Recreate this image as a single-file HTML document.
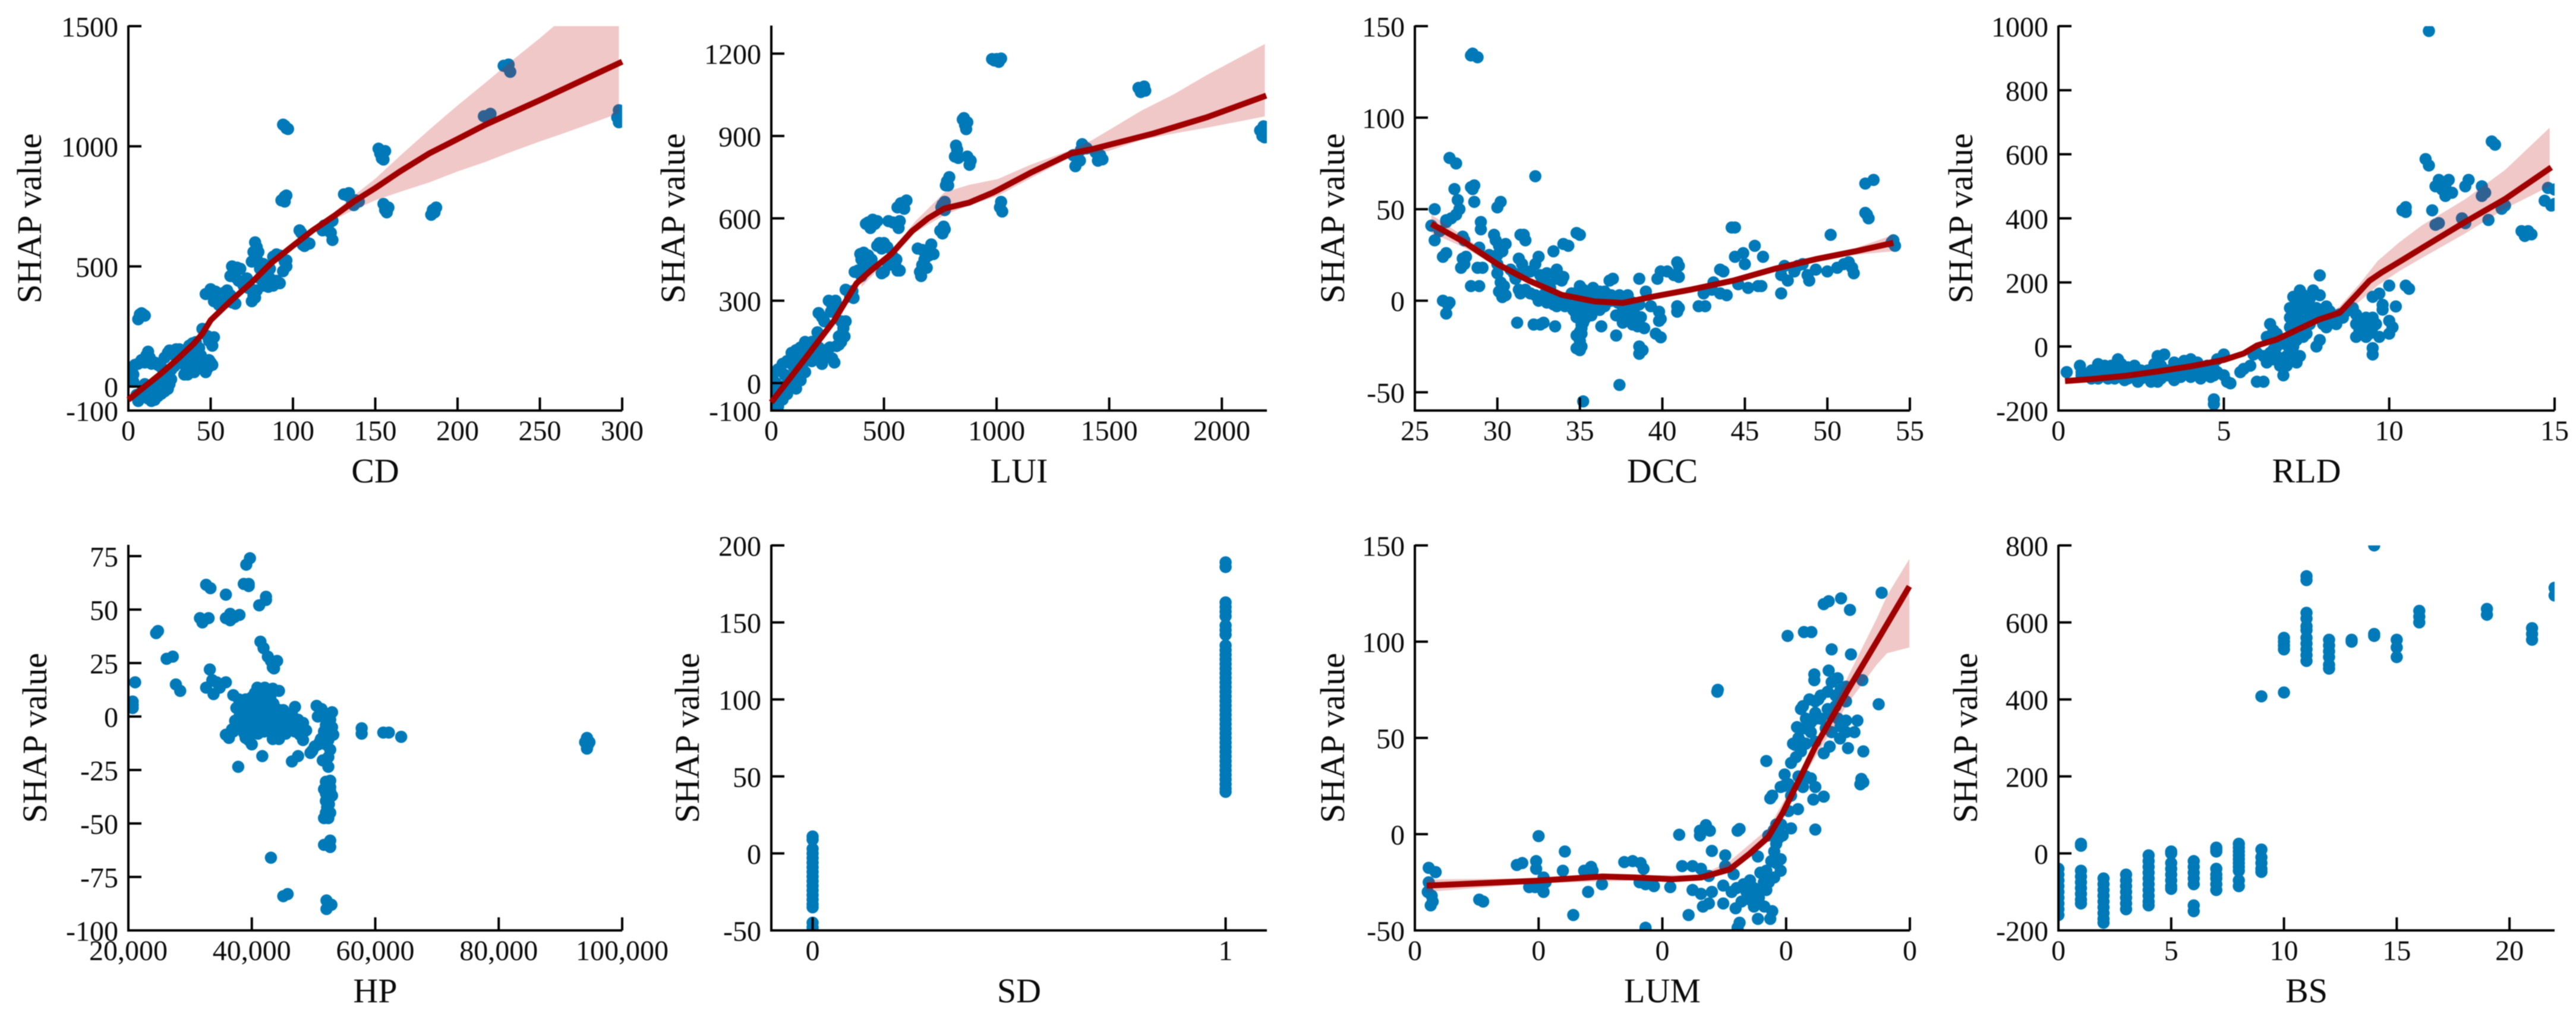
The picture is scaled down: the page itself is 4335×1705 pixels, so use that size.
<!DOCTYPE html>
<html lang="en">
<head>
<meta charset="utf-8">
<title>SHAP dependence plots</title>
<style>
html,body{margin:0;padding:0;background:#fff;}
body{width:4335px;height:1705px;overflow:hidden;}
svg{display:block;filter:blur(0.7px);}
text{font-family:"Liberation Serif",serif;fill:#0a0a0a;}
</style>
</head>
<body>
<svg id="figure" xmlns="http://www.w3.org/2000/svg" width="4335" height="1705" viewBox="0 0 4335 1705"></svg>
<script>
/* ---------- CD ---------- */
const cdXTicks=[0,50,100,150,200,250,300];
const cdYTicks=[-100,0,500,1000,1500];
const cdPoints=[[94,1090],[95,1085],[96,1075],[97,1072],[94,780],[95,790],[96,795],[93,775],[95,770],[152,990],[153,970],[155,975],[156,980],[154,950],[155,945],[155,760],[156,750],[158,745],[157,725],[156,735],[184,715],[185,735],[187,745],[186,725],[216,1125],[219,1130],[220,1135],[218,1120],[228,1335],[231,1340],[232,1310],[230,1330],[297,1120],[298,1150],[298,1100],[299,1130],[131,800],[134,805],[136,765],[138,775],[140,770],[137,755],[133,795],[120,660],[122,680],[124,690],[121,650],[123,640],[124,610],[119,670],[118,650],[105,640],[106,590],[108,600],[110,595],[104,650],[107,585],[77,600],[78,580],[76,560],[79,560],[75,520],[78,530],[82,510],[80,490],[85,500],[88,540],[90,550],[92,545],[95,520],[96,500],[94,480],[96,525],[84,470],[86,450],[90,440],[92,430],[88,420],[85,415],[82,420],[80,450],[83,440],[86,490],[76,380],[75,355],[77,370],[78,400],[74,410],[63,500],[66,495],[68,490],[62,460],[65,455],[67,440],[70,435],[72,450],[73,410],[70,420],[47,385],[50,405],[53,395],[56,370],[58,390],[60,400],[62,380],[59,370],[55,340],[52,355],[57,345],[63,350],[65,345],[61,360],[45,240],[48,210],[50,200],[52,205],[51,170],[49,190],[6,280],[7,300],[8,305],[9,300],[10,295],[44,105],[46,85],[47,60],[48,105],[50,100],[51,90],[49,110],[48,75],[0,60],[2,80],[4,90],[6,95],[8,110],[10,100],[11,130],[12,145],[13,120],[14,95],[16,100],[18,90],[20,80],[22,120],[24,140],[25,150],[27,140],[29,155],[31,155],[33,150],[35,145],[37,170],[39,180],[41,185],[43,160],[42,130],[40,100],[38,70],[36,50],[34,50],[35,80],[33,100],[30,110],[28,85],[26,70],[24,60],[26,30],[25,10],[22,40],[20,20],[18,0],[16,10],[14,-10],[12,-20],[10,-30],[8,-40],[6,-60],[7,-30],[5,-35],[3,20],[1,25],[1,40],[3,50],[10,10],[12,-50],[14,-60],[16,-55],[18,-40],[20,-30],[22,-20],[24,-10],[15,-40],[17,-20],[19,-10],[21,10],[23,30],[13,-30],[11,-10],[9,-10],[30,130],[32,120],[28,130],[37,100],[39,130],[41,150],[44,130],[40,60],[38,90],[36,120]];
const cdLineX=[0,10,20,30,40,45,50,62,75,87,100,112,125,137,150,165,183,200,217,250,275,300];
const cdLineY=[-55,0,55,115,180,220,276,355,434,515,586,650,710,770,826,895,971,1030,1090,1192,1272,1352];
const cdBandX=[118,125,137,150,165,183,200,217,230,250,262,275,298];
const cdBandUpper=[670,725,795,865,960,1070,1170,1265,1340,1450,1520,1600,1750];
const cdBandLower=[660,695,735,775,810,850,895,935,970,1020,1048,1080,1137];

/* ---------- LUI ---------- */
const luiXTicks=[0,500,1000,1500,2000];
const luiYTicks=[-100,0,300,600,900,1200];
const luiPoints=[[980,1180],[1000,1180],[1010,1170],[1020,1182],[990,1175],[1630,1075],[1650,1070],[1660,1065],[1640,1060],[1655,1080],[2170,920],[2180,900],[2185,935],[2195,915],[2190,895],[850,960],[870,950],[860,940],[865,925],[855,965],[820,865],[815,825],[830,820],[870,825],[885,810],[880,795],[825,850],[780,735],[790,750],[775,720],[785,720],[760,650],[770,660],[755,640],[770,630],[750,555],[765,570],[760,545],[770,560],[1020,660],[1015,640],[1025,625],[600,665],[580,650],[560,640],[590,635],[575,655],[430,585],[450,595],[460,580],[440,565],[470,590],[420,580],[520,590],[560,580],[565,565],[570,590],[540,585],[480,510],[500,510],[490,490],[515,495],[470,500],[650,490],[670,485],[690,480],[710,505],[720,470],[700,465],[680,450],[670,430],[660,405],[665,390],[690,420],[555,450],[560,410],[570,410],[500,405],[490,400],[520,430],[540,460],[550,430],[395,470],[410,475],[430,465],[445,450],[420,440],[400,450],[385,410],[370,405],[400,390],[425,420],[330,340],[350,315],[365,310],[360,335],[210,255],[225,240],[235,225],[255,300],[270,285],[285,300],[295,280],[265,260],[310,225],[330,225],[320,200],[315,180],[325,170],[300,170],[310,150],[290,135],[300,140],[205,185],[180,150],[150,150],[130,130],[110,120],[90,110],[70,80],[50,70],[30,50],[15,40],[5,20],[0,40],[205,110],[220,90],[225,70],[270,90],[280,75],[250,100],[260,130],[240,120],[210,130],[190,120],[170,100],[150,80],[135,60],[120,30],[100,20],[85,-10],[70,-40],[50,-60],[30,-85],[10,-90],[0,-70],[40,-20],[60,-10],[80,20],[100,60],[120,90],[140,110],[20,0],[10,-30],[60,30],[90,70],[160,120],[180,80],[150,40],[130,10],[110,-20],[1340,830],[1350,790],[1360,820],[1370,810],[1380,870],[1390,860],[1400,855],[1375,850],[1440,840],[1450,810],[1460,830],[1470,815]];
const luiLineX=[0,151,278,378,442,533,624,696,769,878,987,1151,1333,1424,1696,1933,2197];
const luiLineY=[-70,90,227,363,410,470,553,600,636,657,695,766,837,852,909,968,1047];
const luiBandX=[400,530,640,769,878,1005,1150,1333,1424,1496,1642,1787,1933,2191];
const luiBandUpper=[375,480,590,695,722,743,795,850,885,920,992,1052,1122,1235];
const luiBandLower=[350,460,550,612,648,682,745,825,835,845,885,909,930,971];

/* ---------- DCC ---------- */
const dccXTicks=[25,30,35,40,45,50,55];
const dccYTicks=[-50,0,50,100,150];
const dccPoints=[[28.5,135],[28.4,134],[28.8,133],[27.1,78],[27.5,75],[32.3,68],[52.3,64],[52.8,66],[27.4,61],[28.4,62],[28.6,63],[28.5,61],[26.2,50],[27.6,55],[27.7,50],[27.5,47],[27.2,45],[28.6,54],[26.9,44],[26,41],[26.5,38],[26.2,33],[26.9,43],[30,51],[30.2,54],[29,43],[29,39],[29.8,36],[29.9,33],[30.1,30],[30.5,31],[27.9,35],[28,33],[28.9,29],[31.4,36],[31.6,36],[31.7,33],[34,31],[34.3,30],[33.4,27],[34.8,37],[35,36],[26.7,24],[26.9,26],[27.8,18],[28,20],[27.9,23],[28.1,24],[28.8,18],[29.1,18],[30,25],[30.3,27],[30,15],[30.2,10],[30.4,8],[30.1,5],[30.3,2],[30.5,3],[31.3,23],[31.5,20],[32.5,24],[32.3,20],[31.5,15],[32,16],[33,15],[33.6,17],[34,13],[33.9,11],[32.7,12],[31.3,6],[31.4,4],[32,4],[31.7,6],[28.4,8],[28.9,8],[26.7,0],[27,-2],[27.1,-1],[26.9,-7],[31.2,-12],[32.2,-13],[32.6,-13],[32.8,-12],[33.5,-14],[32.3,3],[32.8,1],[33,-1],[33.5,3],[33.9,0],[33.6,-3],[34.2,-1],[33.2,7],[35,8],[35.2,6],[35.5,3],[35,1],[35.3,-2],[34.8,-3],[34.7,-6],[35,-8],[35.4,-5],[35.7,-3],[36,0],[36.2,5],[35.8,7],[36.5,5],[36.9,3],[35.7,-8],[36.2,-5],[36.5,-3],[36.3,-14],[34.8,-19],[35.1,-18],[35,-22],[34.8,-26],[35,-27],[35.1,-25],[35.1,-15],[35.2,-12],[37.2,-19],[37.4,-46],[35.2,-55],[37.8,-5],[37.5,-9],[37.6,-12],[38,-10],[38.3,-7],[38.5,-14],[38.9,-15],[38.7,-9],[38.6,-25],[38.8,-27],[38.6,-29],[37.2,-8],[37.9,3],[38.6,-2],[36.8,11],[37,12],[38.6,12],[39,5],[39.3,-3],[39.8,-6],[39.8,-11],[39.9,-10],[39.6,-18],[39.9,-20],[39.7,12],[39.9,16],[40.3,16],[40.7,14],[41,13],[41,19],[40.9,21],[40.9,-3],[40.9,-6],[41,-4],[42.2,-3],[42.6,-3],[42.5,4],[43,6],[43.1,10],[43.5,4],[43.9,3],[43.5,17],[43.7,16],[44.2,40],[44.4,40],[44.4,24],[44.9,26],[45,20],[44.6,9],[45.2,7],[45.6,30],[46.1,24],[45.8,8],[46,8],[47.2,4],[47.4,19],[47.2,14],[47.6,11],[48,16],[48.2,19],[48.5,20],[48.8,14],[48.9,11],[49.3,17],[50,16],[50.2,36],[50.6,18],[51,20],[51.3,21],[51.5,18],[51.6,15],[52.3,48],[52.4,47],[52.5,45],[54,33],[54.1,30],[53.9,32],[34.5,4],[34.9,-1],[35.3,-5],[35.8,0],[36.2,2],[34.6,-5],[35.5,-8],[36,-4],[34.8,-9],[35.2,-10],[36.4,1],[35.6,5],[34.9,5],[36.9,0],[37.3,-1],[38,-4],[37.6,-6],[38.2,-3],[37.8,-9],[38.4,-11],[38.2,-13],[37.5,-2],[37.4,3],[38.2,-1],[35.1,-13],[35.3,-10],[35,-17],[32.9,4],[32.5,0],[33,5],[33.4,-2],[34.1,-3],[33.1,9],[33.6,12],[32.6,14],[31,15],[30.8,17],[31.1,12],[30,20],[29.5,25]];
const dccLineX=[26,28,30,31.9,33.9,35.9,37.6,39.3,41.8,44.3,46.8,49.3,51.7,54];
const dccLineY=[42,32,20,11,3.2,-0.4,-1.2,2,6.2,11,17.4,22.7,27,31.6];
const dccBandX=[26,28,30,32,34,36,38,40,44,48,51,54];
const dccBandUpper=[47,35,22,12.5,4.5,1,0,3.5,12,20,26.5,36];
const dccBandLower=[37,29,18.5,9.5,2,-1.5,-2.5,2,10,18.5,24.5,27];

/* ---------- RLD ---------- */
const rldXTicks=[0,5,10,15];
const rldYTicks=[-200,0,200,400,600,800,1000];
const rldPoints=[[11.2,985],[13.1,640],[13.2,630],[11.1,585],[11.2,565],[11.5,520],[11.8,520],[11.4,500],[11.6,490],[11.7,470],[11.9,480],[11.7,505],[12.4,520],[12.3,500],[12.8,500],[12.9,480],[12.8,470],[10.4,425],[10.5,435],[10.5,420],[11.3,425],[11.4,380],[11.5,385],[12.2,400],[12.3,385],[13,395],[13.4,430],[13.5,440],[14,360],[14.2,360],[14.1,345],[14.3,350],[14.7,455],[14.9,440],[14.8,495],[15,490],[15,445],[13.4,435],[10.5,190],[10.6,180],[10.2,125],[10,190],[9.7,165],[9.5,155],[9.8,130],[9.8,115],[10,80],[10.1,60],[10,40],[9.7,30],[9.5,-5],[9.5,-25],[9.5,60],[9.3,90],[9.2,40],[9.1,50],[9,70],[8.9,120],[9,100],[8.6,90],[8.4,70],[8.7,110],[7.9,222],[7.3,175],[7.1,155],[7.4,160],[7,120],[7.3,115],[7.6,100],[7.7,175],[7.9,160],[8.1,125],[8,100],[8.3,90],[7.8,120],[7.5,130],[8.1,60],[7.9,20],[7.8,0],[7.5,40],[6.4,70],[6.5,50],[6.6,40],[6.3,30],[7,60],[7.1,50],[7,20],[6.8,10],[7.1,0],[7.3,-30],[6.9,-30],[7.2,-50],[6.5,-10],[6.3,-50],[6.7,-60],[6,-20],[5.9,-25],[6.5,-40],[6.8,-90],[6,-110],[6.2,-110],[5.8,-60],[5.6,-70],[5.5,-80],[5.1,-110],[5.2,-115],[5,-90],[4.8,-80],[4.7,-165],[4.7,-180],[5,-25],[4.8,-40],[4.5,-60],[4.7,-70],[4.2,-50],[4,-40],[3.8,-45],[3,-30],[3.2,-25],[2.9,-55],[3.1,-60],[3.5,-50],[3.3,-90],[3.5,-105],[3.7,-95],[4,-95],[4.3,-100],[4.6,-95],[2.8,-110],[2.4,-110],[2,-105],[1.8,-40],[1.9,-55],[2.1,-65],[2.3,-60],[2.5,-75],[1.2,-55],[1.4,-60],[1.6,-60],[0.65,-60],[0.7,-80],[0.25,-80],[1,-100],[1.2,-100],[1.5,-100],[0.7,-90],[3,-110],[3.3,-75],[3.8,-75],[4.3,-75],[2.7,-90],[2.2,-85],[1.7,-85],[1,-75],[0.9,-85],[1.1,-95],[1.3,-80],[1.5,-85],[1.7,-100],[1.9,-80],[2.1,-100],[2.3,-85],[2.5,-100],[2.7,-75],[2.9,-85],[3.1,-100],[3.5,-75],[3.7,-70],[3.9,-85],[4.1,-70],[4.3,-90],[4.5,-80],[4.7,-90],[2.9,-75],[6.6,0],[6.9,5],[7.2,20],[7.4,30],[7.2,65],[7.4,80],[7.6,70],[7,90],[7.2,100],[7.8,90],[8,70],[7,-10],[6.8,-40],[6.4,-20],[6.2,-30],[6.6,-30],[6.9,-60],[7.1,-20],[7.3,130],[7.2,140],[7.6,150],[8.2,110],[8.5,100],[9.1,80],[9.3,60],[9.4,40],[9,30],[9.6,70],[9.5,90],[9.3,30]];
const rldLineX=[0.2,1,2,3,4,5,5.6,6,6.6,7.26,7.9,8.5,9,9.4,9.77,10.4,11,12.3,13.5,14.9];
const rldLineY=[-108,-102,-92,-78,-62,-42,-22,3,22,54,85,105,160,205,231,270,308,389,460,559];
const rldBandX=[8,8.5,9.1,9.65,10.3,11,12.3,13.5,14.85];
const rldBandUpper=[88,125,195,267,325,379,460,551,683];
const rldBandLower=[82,95,140,190,235,277,353,430,500];

/* ---------- HP ---------- */
const hpXTicks=[20000,40000,60000,80000,100000];
const hpXTickLabels=["20,000","40,000","60,000","80,000","100,000"];
const hpYTicks=[-100,-75,-50,-25,0,25,50,75];
const hpPoints=[[39700,74],[39100,71],[32600,61.6],[33300,60],[38700,62],[39500,62],[39500,61],[35800,57],[41200,52],[42300,54.5],[42300,56],[31600,46],[32000,44],[33000,46],[35800,46],[36500,48],[36500,45],[38000,47.5],[37200,46.5],[24500,39],[24800,40],[26200,27],[27200,28],[21100,16],[20700,5.5],[20700,4],[20700,7],[27700,15],[28400,12],[33200,22],[41400,35],[41900,32],[42600,28],[43100,26],[44100,26],[43400,23],[43600,22.5],[32600,13.5],[33600,17],[34300,16],[35800,16],[33800,10.5],[34800,13.5],[37000,10],[37900,8],[37500,4],[38500,1.5],[37300,-2],[35800,-8.5],[36300,-10],[38000,-5],[39500,-11],[40000,-13],[40700,-7],[40900,13.5],[42100,13.5],[40000,9],[41200,8],[42400,9],[44400,12],[43400,13],[42400,4],[39500,1.5],[40400,0],[41400,-1.5],[42600,-1.5],[43400,1.5],[44400,0],[45100,3],[45800,-3],[43600,-6],[42400,-4],[40900,-4],[40000,-3],[39200,-1.5],[44600,-6],[43400,-10.5],[44400,-10.5],[47000,4.5],[47500,-1.5],[48300,-3],[48800,-6.5],[47800,-8.5],[48300,-11],[46500,-4],[47000,-7],[41700,-18.5],[37800,-23.5],[46500,-21],[47500,-18.5],[50500,5],[51300,3.5],[53000,2],[52700,-1.5],[52700,-5],[51700,-7],[53200,-8.5],[51200,-10.5],[52400,-11],[50200,-14],[49500,-17],[52700,-15.5],[51500,-20.5],[52400,-23.5],[52700,-30],[52000,-30.5],[51700,-34],[53000,-37],[52000,-39.5],[52200,-42.5],[52700,-45],[51700,-47.5],[52400,-47.5],[52700,-58],[51700,-60],[52700,-61],[43100,-66],[45100,-84],[45800,-83],[52100,-86],[52900,-88],[52100,-90],[57800,-5.5],[57800,-8],[61300,-7.5],[62200,-7.5],[64200,-9.5],[94300,-10],[94000,-12],[94700,-12],[94300,-15],[94500,-13],[38500,6],[39000,3],[39500,5],[40500,5],[41000,2],[41500,5],[42000,1],[43000,5],[43800,4],[44500,3],[45000,-1],[45500,1],[46000,0],[46500,1],[40000,-6],[41000,-8],[42000,-7],[39500,-6],[43000,-3],[44000,-3],[41500,10],[42500,11],[43000,9],[40500,11],[39000,8],[38000,0],[38700,-3],[37500,-4],[36800,-6],[37000,-7],[38800,-8],[39000,-10],[44000,-8],[45000,-5],[46000,-6],[45500,-8],[47000,-3],[47500,-5],[52500,-9],[53000,-5],[52000,-4],[51000,-12],[52000,-13],[50800,-13],[49800,-16],[50700,0],[51800,1],[52400,-19],[52700,-33],[52000,-36],[52500,-41],[52000,-45],[52700,-35],[42500,7],[43500,6]];

/* ---------- SD ---------- */
const sdXTicks=[0,1];
const sdYTicks=[-50,0,50,100,150,200];
const sdGroup0=[11,9,3,0,-3,-6,-9,-12,-15,-18,-21,-24,-27,-30,-33,-35,-45,-48,-50];
const sdGroup1=[189,186,163,160,157,154,148,145,142,135,132,129,126,123,120,117,114,111,108,105,102,99,96,93,90,87,84,81,78,75,72,69,66,63,60,57,54,51,48,45,42,40];

/* ---------- LUM ---------- */
const lumXTicks=[0,0.25,0.5,0.75,1];
const lumXTickLabels=["0","0","0","0","0"];
const lumYTicks=[-50,0,50,100,150];
const lumPoints=[[0.028,-17.5],[0.042,-19.7],[0.028,-25],[0.026,-30],[0.034,-32],[0.032,-37],[0.036,-35],[0.13,-34],[0.138,-35],[0.206,-16],[0.217,-15],[0.245,-14],[0.245,-18],[0.25,-1],[0.26,-22.5],[0.231,-27.5],[0.243,-27.5],[0.26,-30],[0.264,-25],[0.303,-9],[0.299,-19],[0.32,-42],[0.342,-19],[0.356,-17],[0.359,-19],[0.35,-30],[0.378,-26],[0.423,-14.5],[0.44,-14],[0.456,-15],[0.462,-18],[0.454,-25],[0.466,-26],[0.483,-27],[0.466,-48.6],[0.516,-27.5],[0.534,-0.3],[0.54,-16.6],[0.561,-16.6],[0.578,-18],[0.594,-21.7],[0.553,-42],[0.561,-29],[0.578,-31],[0.582,-37.6],[0.594,-36],[0.576,1.8],[0.576,-0.7],[0.588,4.7],[0.596,1.8],[0.611,74],[0.612,75],[0.6,-8.7],[0.627,-11],[0.627,-16.6],[0.623,-26.7],[0.623,-36],[0.648,-38.5],[0.644,-20.8],[0.656,2.7],[0.652,1.8],[0.656,-46],[0.652,-48.6],[0.664,-26],[0.677,-24],[0.677,-34],[0.685,-37.6],[0.693,-44],[0.722,-40],[0.718,-44],[0.706,-37.6],[0.698,-20],[0.71,-29],[0.71,-19],[0.726,-22.5],[0.739,-19],[0.693,-11.6],[0.714,-0.7],[0.726,-9],[0.739,-13],[0.73,-5],[0.71,38],[0.718,18.6],[0.722,20],[0.73,5],[0.743,-0.7],[0.76,3],[0.739,24.5],[0.747,31],[0.755,26],[0.76,37],[0.764,47],[0.755,12],[0.774,13],[0.784,24.5],[0.805,18],[0.826,19.5],[0.809,2.4],[0.8,29],[0.809,24.5],[0.753,103],[0.786,105],[0.801,105],[0.826,119.5],[0.836,121],[0.861,122.5],[0.879,116.5],[0.943,125.4],[0.842,96],[0.881,93.4],[0.807,83],[0.807,80],[0.836,85],[0.842,79],[0.854,81],[0.834,74],[0.871,76.6],[0.904,80],[0.78,65],[0.797,70],[0.809,69],[0.784,66.5],[0.809,63],[0.834,65],[0.85,66.5],[0.871,69],[0.937,67.5],[0.772,55.6],[0.788,55],[0.78,48],[0.768,46.4],[0.78,43],[0.8,53],[0.809,48],[0.826,42],[0.838,45.5],[0.842,53],[0.859,49.7],[0.871,59],[0.871,53],[0.888,53],[0.894,59],[0.875,44.7],[0.906,43],[0.902,28.7],[0.9,25.9],[0.906,27],[0.79,60],[0.8,58],[0.82,60],[0.83,55],[0.855,60],[0.86,56],[0.775,50],[0.79,47],[0.77,40],[0.745,25],[0.76,20],[0.775,30],[0.79,30],[0.81,60],[0.82,72],[0.815,70],[0.85,72],[0.86,75],[0.84,62],[0.74,5],[0.735,-2],[0.72,-14],[0.715,-25],[0.705,-25],[0.69,-30],[0.685,-28],[0.67,-30],[0.66,-35],[0.73,-15],[0.725,2],[0.6,-30],[0.64,-30],[0.65,-28],[0.695,-33]];
const lumLineX=[0.024,0.247,0.379,0.445,0.52,0.578,0.636,0.677,0.714,0.743,0.776,0.809,0.875,0.933,0.999];
const lumLineY=[-26.7,-24.2,-22,-22.5,-23.4,-22.5,-18.3,-10,-1.5,11,28,45.5,75,100,128.7];
const lumBandX=[0.024,0.25,0.45,0.58,0.636,0.714,0.776,0.875,0.933,0.954,0.999];
const lumBandUpper=[-23.5,-23,-21.5,-21,-14,3,31,82,112,124,143];
const lumBandLower=[-30,-25.5,-24,-24,-20,-4,26,68,88,94,97];

/* ---------- BS ---------- */
const bsXTicks=[0,5,10,15,20];
const bsYTicks=[-200,0,200,400,600,800];
const bsPoints=[[0,-40],[0,-55],[0,-70],[0,-85],[0,-100],[0,-115],[0,-130],[0,-145],[0,-160],[1,25],[1,20],[1,-45],[1,-60],[1,-75],[1,-90],[1,-105],[1,-120],[1,-130],[2,-65],[2,-80],[2,-95],[2,-110],[2,-125],[2,-140],[2,-155],[2,-170],[2,-180],[3,-55],[3,-70],[3,-85],[3,-100],[3,-115],[3,-130],[3,-145],[4,-5],[4,-20],[4,-35],[4,-50],[4,-65],[4,-80],[4,-95],[4,-110],[4,-125],[4,-135],[5,5],[5,0],[5,-25],[5,-40],[5,-55],[5,-70],[5,-85],[5,-92],[6,-20],[6,-35],[6,-50],[6,-65],[6,-80],[6,-135],[6,-150],[7,15],[7,10],[7,5],[7,-40],[7,-55],[7,-65],[7,-80],[7,-95],[8,25],[8,15],[8,5],[8,-5],[8,-15],[8,-25],[8,-35],[8,-45],[8,-70],[8,-85],[9,10],[9,-10],[9,-25],[9,-40],[9,-48],[9,408],[10,418],[10,560],[10,550],[10,540],[10,530],[11,720],[11,710],[11,625],[11,610],[11,590],[11,580],[11,560],[11,545],[11,530],[11,515],[11,500],[12,555],[12,540],[12,525],[12,510],[12,490],[12,480],[13,550],[13,555],[14,800],[14,565],[14,570],[15,555],[15,535],[15,510],[16,630],[16,615],[16,600],[19,635],[19,620],[21,585],[21,570],[21,555],[22,690],[22,670]];

/* ---------- drawing ---------- */
const NS='http://www.w3.org/2000/svg';
const root=document.getElementById('figure');
function make(parent,tag,attrs,text){
  const el=document.createElementNS(NS,tag);
  for(const k in attrs){el.setAttribute(k,attrs[k]);}
  if(text!==undefined){el.textContent=text;}
  parent.appendChild(el);
  return el;
}
function pairs(xs,ys){return xs.map(function(x,i){return [x,ys[i]];});}
const DOT_R=10.3,TICK_LEN=22,AXIS_W=4;
function drawPanel(p){
  const sx=function(v){return p.left+(v-p.xMin)/(p.xMax-p.xMin)*(p.right-p.left);};
  const sy=function(v){return p.bottom-(v-p.yMin)/(p.yMax-p.yMin)*(p.bottom-p.top);};
  const g=make(root,'g',{});
  
  
  const defs=make(g,'defs',{});
  const clip=make(defs,'clipPath',{id:'clip-'+p.name});
  make(clip,'rect',{x:p.left,y:p.top,width:p.right-p.left,height:p.bottom-p.top});
  const dots=make(g,'g',{'clip-path':'url(#clip-'+p.name+')',fill:'#0079b8'});
  
  
  p.points.forEach(function(pt){
    const c=make(dots,'circle',{cx:sx(pt[0]),cy:sy(pt[1]),r:DOT_R});
    
    
  });
  if(p.bandX){
    const up=pairs(p.bandX,p.bandUpper).map(function(d){return sx(d[0])+','+sy(d[1]);});
    const lo=pairs(p.bandX,p.bandLower).reverse().map(function(d){return sx(d[0])+','+sy(d[1]);});
    const band=make(g,'polygon',{points:up.concat(lo).join(' '),fill:'#c41a1a',opacity:'0.24','clip-path':'url(#clip-'+p.name+')'});
    
    
  }
  const axes=make(g,'g',{stroke:'#000','stroke-width':AXIS_W,fill:'none'});
  
  
  const ySpine=make(axes,'line',{x1:p.left,x2:p.left,y1:p.top-1,y2:p.bottom+2});
  
  
  const xSpine=make(axes,'line',{x1:p.left,x2:p.right,y1:p.bottom,y2:p.bottom});
  
  
  p.xTicks.forEach(function(v,i){
    const t=make(axes,'line',{x1:sx(v),x2:sx(v),y1:p.bottom,y2:p.bottom-TICK_LEN});
    
    
    const label=p.xLabels?p.xLabels[i]:String(v);
    const tx=make(g,'text',{x:sx(v),y:p.bottom+50,'font-size':48,'text-anchor':'middle'},label);
    
    
  });
  p.yTicks.forEach(function(v){
    const t=make(axes,'line',{x1:p.left,x2:p.left+TICK_LEN,y1:sy(v),y2:sy(v)});
    
    
    const ty=make(g,'text',{x:p.left-17,y:sy(v)+17.5,'font-size':48,'text-anchor':'end'},String(v));
    
    
  });
  if(p.lineX){
    const d=pairs(p.lineX,p.lineY).map(function(q){return sx(q[0])+','+sy(q[1]);}).join(' ');
    const ln=make(g,'polyline',{points:d,fill:'none',stroke:'#a00000','stroke-width':10,'stroke-linejoin':'round'});
    
    
  }
  const xt=make(g,'text',{x:(p.left+p.right)/2,y:p.bottom+121,'font-size':58,'text-anchor':'middle'},p.xTitle);
  
  
  const cy=(p.top+p.bottom)/2;
  const yt=make(g,'text',{x:p.yTitleX,y:cy,'font-size':58,'text-anchor':'middle',transform:'rotate(-90 '+p.yTitleX+' '+cy+')'},'SHAP value');
  
  
}
const R1T=44,R1B=691,R2T=918,R2B=1566;
drawPanel({name:'cd',left:216,right:1047,top:R1T,bottom:R1B,xMin:0,xMax:300,yMin:-100,yMax:1500,xTicks:cdXTicks,yTicks:cdYTicks,points:cdPoints,lineX:cdLineX,lineY:cdLineY,bandX:cdBandX,bandUpper:cdBandUpper,bandLower:cdBandLower,xTitle:'CD',yTitleX:69});
drawPanel({name:'lui',left:1298,right:2132,top:R1T,bottom:R1B,xMin:0,xMax:2200,yMin:-100,yMax:1300,xTicks:luiXTicks,yTicks:luiYTicks,points:luiPoints,lineX:luiLineX,lineY:luiLineY,bandX:luiBandX,bandUpper:luiBandUpper,bandLower:luiBandLower,xTitle:'LUI',yTitleX:1152});
drawPanel({name:'dcc',left:2381,right:3214,top:R1T,bottom:R1B,xMin:25,xMax:55,yMin:-60,yMax:150,xTicks:dccXTicks,yTicks:dccYTicks,points:dccPoints,lineX:dccLineX,lineY:dccLineY,bandX:dccBandX,bandUpper:dccBandUpper,bandLower:dccBandLower,xTitle:'DCC',yTitleX:2262});
drawPanel({name:'rld',left:3464,right:4299,top:R1T,bottom:R1B,xMin:0,xMax:15,yMin:-200,yMax:1000,xTicks:rldXTicks,yTicks:rldYTicks,points:rldPoints,lineX:rldLineX,lineY:rldLineY,bandX:rldBandX,bandUpper:rldBandUpper,bandLower:rldBandLower,xTitle:'RLD',yTitleX:3319});
drawPanel({name:'hp',left:216,right:1047,top:R2T,bottom:R2B,xMin:20000,xMax:100000,yMin:-100,yMax:80,xTicks:hpXTicks,xLabels:hpXTickLabels,yTicks:hpYTicks,points:hpPoints,xTitle:'HP',yTitleX:78});
drawPanel({name:'sd',left:1298,right:2132,top:R2T,bottom:R2B,xMin:-0.1,xMax:1.1,yMin:-50,yMax:200,xTicks:sdXTicks,yTicks:sdYTicks,points:sdGroup0.map(function(v){return [0,v];}).concat(sdGroup1.map(function(v){return [1,v];})),xTitle:'SD',yTitleX:1176});
drawPanel({name:'lum',left:2381,right:3214,top:R2T,bottom:R2B,xMin:0,xMax:1,yMin:-50,yMax:150,xTicks:lumXTicks,xLabels:lumXTickLabels,yTicks:lumYTicks,points:lumPoints,lineX:lumLineX,lineY:lumLineY,bandX:lumBandX,bandUpper:lumBandUpper,bandLower:lumBandLower,xTitle:'LUM',yTitleX:2262});
drawPanel({name:'bs',left:3464,right:4299,top:R2T,bottom:R2B,xMin:0,xMax:22,yMin:-200,yMax:800,xTicks:bsXTicks,yTicks:bsYTicks,points:bsPoints,xTitle:'BS',yTitleX:3327});
</script>
</body>
</html>
